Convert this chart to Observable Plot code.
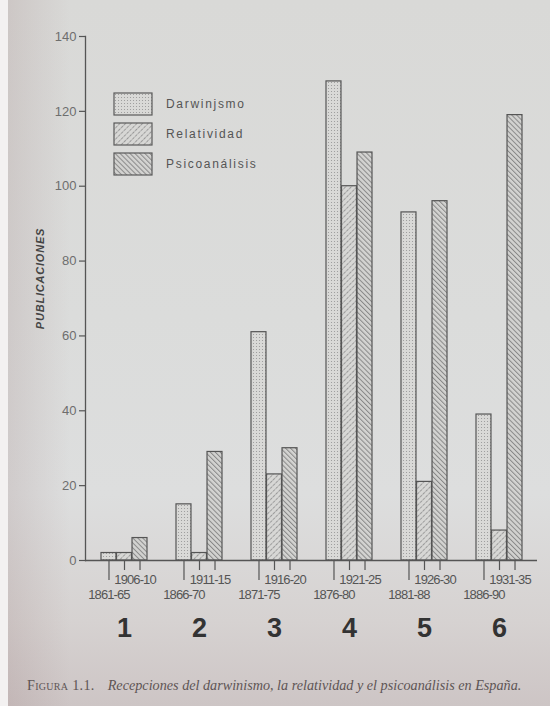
<!DOCTYPE html>
<html><head><meta charset="utf-8">
<script src="https://cdn.jsdelivr.net/npm/d3@7"></script>
<script src="https://cdn.jsdelivr.net/npm/@observablehq/plot@0.6"></script>
<style>
html,body{margin:0;padding:0;}
body{width:550px;height:706px;overflow:hidden;position:relative;
 background:
  linear-gradient(to right,#f3f1f1 0,#f3f1f1 8px,transparent 8px),
  linear-gradient(to right,rgba(140,105,105,0.16) 8px,rgba(140,105,105,0) 70px),
  linear-gradient(to bottom,#d9d9d7 0%,#dbdcdb 45%,#dddede 70%,#d6d2d1 88%,#cdc5c5 100%);}
#chart{position:absolute;left:0;top:0;}
#legend{position:absolute;left:114px;top:93px;font-family:"Liberation Sans",Arial,sans-serif;font-size:12px;color:#555;letter-spacing:1.7px;}
.sw{display:flex;align-items:center;height:22px;margin-bottom:8px;}
.sw svg{margin-right:14px;overflow:visible;}
#caption{position:absolute;left:27px;top:677px;font-family:"Liberation Serif","DejaVu Serif",serif;font-size:14.2px;color:#5e5555;white-space:nowrap;}
#caption .sc{font-variant:small-caps;letter-spacing:0.3px;margin-right:13px;}
</style></head><body>
<svg width="0" height="0" style="position:absolute"><defs>
<pattern id="pDots" patternUnits="userSpaceOnUse" width="3" height="3"><rect width="3" height="3" fill="#d9d9d7"/><circle cx="1.5" cy="1.5" r="0.55" fill="#959595"/></pattern>
<pattern id="pRel" patternUnits="userSpaceOnUse" width="4" height="4" patternTransform="rotate(45)"><rect width="4" height="4" fill="#d7d7d5"/><line x1="0.5" y1="0" x2="0.5" y2="4" stroke="#999" stroke-width="1" stroke-dasharray="2.6 1"/></pattern>
<pattern id="pPsi" patternUnits="userSpaceOnUse" width="3.5" height="3.5" patternTransform="rotate(-45)"><rect width="3.5" height="3.5" fill="#d3d3d1"/><line x1="0.5" y1="0" x2="0.5" y2="3.5" stroke="#888" stroke-width="1"/></pattern>
</defs></svg>
<div id="chart"></div>
<div id="legend"></div>
<div id="caption"><span class="sc">Figura 1.1.</span><i>Recepciones del darwinismo, la relatividad y el psicoanálisis en España.</i></div>
<script>
// ---- data ----
const groups = ["1", "2", "3", "4", "5", "6"];
const series = ["Darwinjsmo", "Relatividad", "Psicoanálisis"];
const darwinismo = [2, 15, 61, 128, 93, 39];
const relatividad = [2, 2, 23, 100, 21, 8];
const psicoanalisis = [6, 29, 30, 109, 96, 119];
const darwinPeriods = ["1861-65", "1866-70", "1871-75", "1876-80", "1881-88", "1886-90"];
const laterPeriods = ["1906-10", "1911-15", "1916-20", "1921-25", "1926-30", "1931-35"];
const yTicks = [0, 20, 40, 60, 80, 100, 120, 140];
const yLabel = "PUBLICACIONES";
const patterns = ["url(#pDots)", "url(#pRel)", "url(#pPsi)"];

const valuesBySeries = [darwinismo, relatividad, psicoanalisis];
const rows = groups.flatMap((g, i) => series.map((s, k) => ({group: g, series: s, value: valuesBySeries[k][i]})));

// ---- layout ----
const W = 550, H = 645, mL = 85, mR = 13, mT = 36, mB = 85;
const padIn = 0.387, padOut = 0.171;
const bw = d3.scaleBand().domain(groups).range([mL, W - mR]).paddingInner(padIn).paddingOuter(padOut).bandwidth();
const third = bw / 3;
const ink = "#555";
const sans = "Liberation Sans, Arial, sans-serif";

const bars = series.map((s, k) => Plot.barY(rows.filter(d => d.series === s), {
  x: "group", y: "value", fill: "series", stroke: ink, strokeWidth: 1.2,
  insetLeft: k * third, insetRight: (2 - k) * third
}));

const plot = Plot.plot({
  width: W, height: H, marginLeft: mL, marginRight: mR, marginTop: mT, marginBottom: mB,
  style: {background: "transparent", color: ink, fontFamily: sans},
  x: {domain: groups, paddingInner: padIn, paddingOuter: padOut, axis: null},
  y: {domain: [0, 140], axis: null},
  color: {type: "ordinal", domain: series, range: patterns},
  marks: [
    ...bars,
    Plot.ruleY([0], {stroke: ink, strokeWidth: 1.3}),
    Plot.frame({anchor: "left", stroke: ink, strokeWidth: 1.3}),
    Plot.axisY({ticks: yTicks, tickSize: 6, tickPadding: 3, fontSize: 13, label: null, fill: "#6e6e6e", stroke: ink, strokeWidth: 1.2, fontFamily: sans}),
    // long ticks + labels under Darwinismo bars
    Plot.axisX({tickSize: 20, tickPadding: 9, dx: -third, label: null, fontSize: 13, fontFamily: sans, fill: "#555", stroke: ink, strokeWidth: 1.2,
      tickFormat: d => darwinPeriods[groups.indexOf(d)]}),
    // short ticks under Relatividad bars
    Plot.axisX({tickSize: 10, label: null, stroke: ink, strokeWidth: 1.2, tickFormat: () => ""}),
    // short ticks under Psicoanálisis bars
    Plot.axisX({tickSize: 10, dx: third, label: null, stroke: ink, strokeWidth: 1.2, tickFormat: () => ""}),
    // labels of later periods
    Plot.axisX({tickSize: 0, tickPadding: 14, dx: third - 5, label: null, fontSize: 13, fontFamily: sans, fill: "#555",
      tickFormat: d => laterPeriods[groups.indexOf(d)]}),
    // group numbers
    Plot.axisX({tickSize: 0, tickPadding: 57, label: null, fontSize: 27, fontWeight: "bold", fontFamily: sans, fill: "#333"}),
    Plot.text([yLabel], {frameAnchor: "left", textAnchor: "middle", text: d => d, rotate: -90, dx: -45, dy: -20, fontSize: 11, fontWeight: "bold", fontStyle: "italic", fill: "#444", fontFamily: sans})
  ]
});
const svg = d3.select(plot);
svg.selectAll("text").filter(function(){ return this.textContent === yLabel; }).style("letter-spacing", "0.8px");
svg.selectAll("text").filter(function(){ return /^\d{4}-\d\d$/.test(this.textContent); }).style("letter-spacing", "-0.9px");
document.getElementById("chart").appendChild(plot);

// legend built from the plot's own color scale
const color = plot.scale("color");
const lg = d3.select("#legend");
series.forEach((s, k) => {
  const row = lg.append("div").attr("class", "sw");
  row.append("svg").attr("width", 38).attr("height", 22)
    .append("rect").attr("width", 38).attr("height", 22)
    .attr("fill", color.range[k]).attr("stroke", "#5a5a5a").attr("stroke-width", 1.2);
  row.append("span").text(s);
});
</script>
</body></html>
